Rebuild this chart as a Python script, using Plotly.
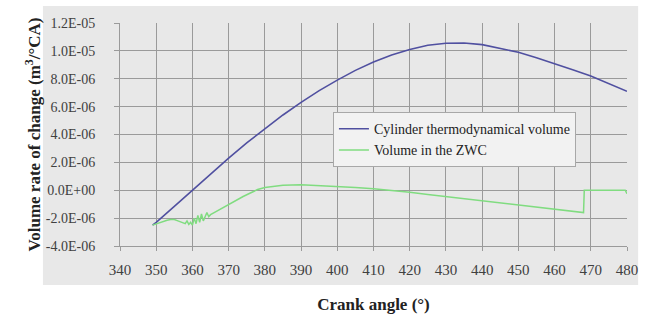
import plotly.graph_objects as go

# Cylinder thermodynamical volume rate (m3/°CA)
cyl_angle = [349, 350, 355, 360, 365, 370, 375, 380, 385, 390, 395, 400, 405, 410, 415, 420,
             425, 430, 435, 440, 445, 450, 455, 460, 465, 470, 475, 480]
cyl_value = [-2.5e-6, -2.3e-6, -1.15e-6, 0.0, 1.2e-6, 2.3e-6, 3.4e-6, 4.4e-6, 5.4e-6, 6.3e-6,
             7.15e-6, 7.9e-6, 8.6e-6, 9.2e-6, 9.7e-6, 10.1e-6, 10.4e-6, 10.55e-6, 10.57e-6,
             10.45e-6, 10.2e-6, 9.9e-6, 9.5e-6, 9.1e-6, 8.65e-6, 8.2e-6, 7.65e-6, 7.1e-6]

# Volume in the ZWC
zwc_angle = [349, 350, 351, 352, 353, 354, 355, 356, 357, 358, 358.5, 359, 359.5, 360, 360.5,
             361, 361.5, 362, 362.5, 363, 363.5, 364, 364.5, 365, 366, 368, 370, 372, 374,
             376, 378, 380, 385, 390, 395, 400, 405, 410, 415, 420, 425, 430, 435, 440, 445,
             450, 455, 460, 465, 468, 468.2, 470, 475, 479.5, 480]
zwc_value = [-2.5e-6, -2.4e-6, -2.3e-6, -2.2e-6, -2.15e-6, -2.1e-6, -2.1e-6, -2.2e-6, -2.3e-6,
             -2.4e-6, -2.2e-6, -2.45e-6, -2.3e-6, -2.5e-6, -2.0e-6, -2.4e-6, -1.8e-6, -2.3e-6,
             -1.7e-6, -2.2e-6, -1.9e-6, -1.6e-6, -1.9e-6, -1.75e-6, -1.6e-6, -1.3e-6, -1.0e-6,
             -0.7e-6, -0.45e-6, -0.2e-6, 0.05e-6, 0.2e-6, 0.35e-6, 0.4e-6, 0.35e-6, 0.3e-6,
             0.2e-6, 0.1e-6, 0.0, -0.15e-6, -0.3e-6, -0.45e-6, -0.6e-6, -0.75e-6, -0.9e-6,
             -1.05e-6, -1.2e-6, -1.35e-6, -1.5e-6, -1.6e-6, 0.0, 0.0, 0.0, 0.0, -0.25e-6]

y_tickvals = [-4e-6, -2e-6, 0, 2e-6, 4e-6, 6e-6, 8e-6, 1.0e-5, 1.2e-5]
y_ticktext = ["-4.0E-06", "-2.0E-06", "0.0E+00", "2.0E-06", "4.0E-06", "6.0E-06",
              "8.0E-06", "1.0E-05", "1.2E-05"]
x_tickvals = list(range(340, 481, 10))

font_family = "Liberation Serif, Times New Roman, serif"

fig = go.Figure()
fig.add_trace(go.Scatter(x=cyl_angle, y=cyl_value, mode="lines",
                         name="Cylinder thermodynamical volume",
                         line=dict(color="#5050a0", width=1.6)))
fig.add_trace(go.Scatter(x=zwc_angle, y=zwc_value, mode="lines",
                         name="Volume in the ZWC",
                         line=dict(color="#80dc80", width=1.5)))

fig.update_layout(
    width=645, height=314,
    margin=dict(l=120, r=18, t=23, b=68),
    paper_bgcolor="white",
    plot_bgcolor="#e8e8e8",
    font=dict(family=font_family, size=14, color="#404040"),
    showlegend=True,
    legend=dict(x=0.42, y=0.60, xanchor="left", yanchor="top",
                bgcolor="#f2f2f2", bordercolor="#a8a8a8", borderwidth=1,
                font=dict(family=font_family, size=14, color="#222222"),
                itemwidth=30, tracegroupgap=0),
    shapes=[dict(type="rect", xref="paper", yref="paper",
                 x0=-0.152, x1=1.022, y0=-0.175, y1=1.076,
                 fillcolor="#e8e8e8", line=dict(width=0), layer="below")],
)
fig.update_xaxes(range=[340, 480], tickvals=x_tickvals, showgrid=True,
                 gridcolor="#9a9a9a", gridwidth=1, ticks="outside", ticklen=4,
                 tickcolor="#9a9a9a", showline=True, linecolor="#9a9a9a",
                 zeroline=False, ticklabelstandoff=6, automargin=False,
                 ticklabeloverflow="allow",
                 title=dict(text="<b>Crank angle (°)</b>", standoff=25,
                            font=dict(size=17, color="#222222")),
                 tickfont=dict(size=15, color="#404040"))
fig.update_yaxes(range=[-4e-6, 1.2e-5], tickvals=y_tickvals, ticktext=y_ticktext,
                 showgrid=True, gridcolor="#9a9a9a", gridwidth=1, ticks="outside",
                 ticklen=5, tickcolor="#9a9a9a", showline=True, linecolor="#9a9a9a",
                 zeroline=False, ticklabelstandoff=16, automargin=False,
                 ticklabeloverflow="allow",
                 title=dict(text="<b>Volume rate of change (m<sup>3</sup>/°CA)</b>",
                            standoff=0, font=dict(size=17, color="#222222")),
                 tickfont=dict(size=14, color="#404040"))

fig.write_html("out.html", config={"displayModeBar": False},
               post_script="document.body.style.margin='0';document.body.style.padding='0';")
